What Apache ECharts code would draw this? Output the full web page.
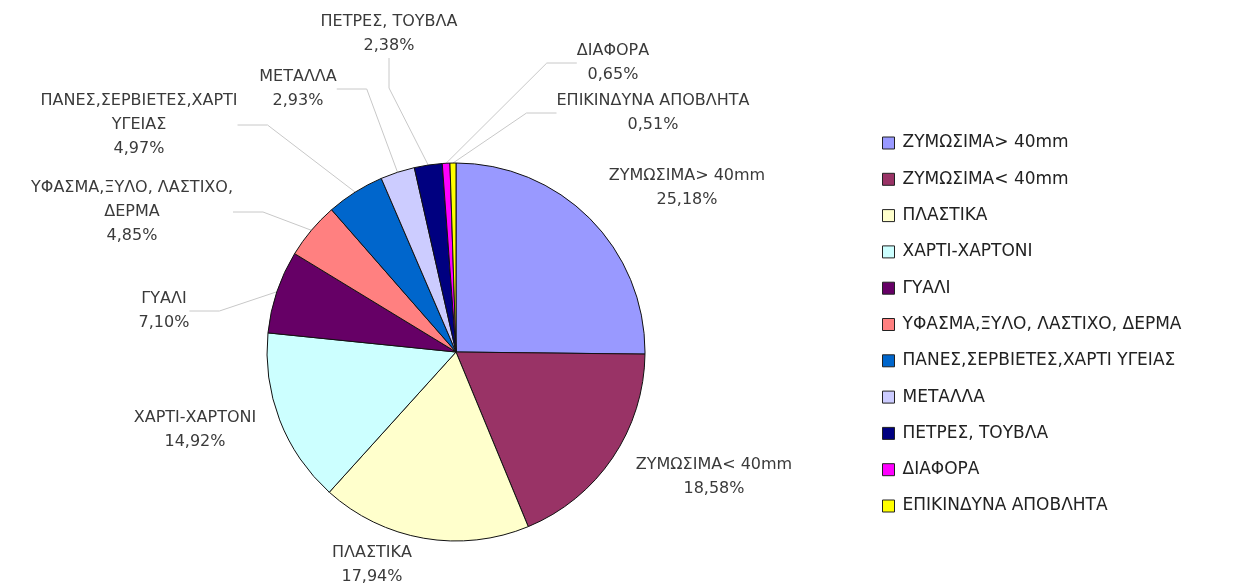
<!DOCTYPE html>
<html lang="el">
	<head>
		<meta charset="utf-8">
		<title>Σύσταση αποβλήτων</title>
		<script src="https://cdn.jsdelivr.net/npm/echarts@6/dist/echarts.min.js"></script>
		<style>
			html, body { margin: 0; padding: 0; background: #fff; }
			#container { width: 1255px; height: 585px; }
		</style>
	</head>
	<body>
		<div id="container"></div>
		<script type="text/javascript">
            // κατηγορίες (όπως στο υπόμνημα)
            var names = ['ΖΥΜΩΣΙΜΑ> 40mm', 'ΖΥΜΩΣΙΜΑ< 40mm', 'ΠΛΑΣΤΙΚΑ', 'ΧΑΡΤΙ-ΧΑΡΤΟΝΙ', 'ΓΥΑΛΙ',
                'ΥΦΑΣΜΑ,ΞΥΛΟ, ΛΑΣΤΙΧΟ, ΔΕΡΜΑ', 'ΠΑΝΕΣ,ΣΕΡΒΙΕΤΕΣ,ΧΑΡΤΙ ΥΓΕΙΑΣ', 'ΜΕΤΑΛΛΑ',
                'ΠΕΤΡΕΣ, ΤΟΥΒΛΑ', 'ΔΙΑΦΟΡΑ', 'ΕΠΙΚΙΝΔΥΝΑ ΑΠΟΒΛΗΤΑ'];
            // ποσοστά %
            var values = [25.18, 18.58, 17.94, 14.92, 7.10, 4.85, 4.97, 2.93, 2.38, 0.65, 0.51];
            // κείμενο ετικετών πάνω στο γράφημα
            var labelNames = ['ΖΥΜΩΣΙΜΑ> 40mm', 'ΖΥΜΩΣΙΜΑ< 40mm', 'ΠΛΑΣΤΙΚΑ', 'ΧΑΡΤΙ-ΧΑΡΤΟΝΙ', 'ΓΥΑΛΙ',
                'ΥΦΑΣΜΑ,ΞΥΛΟ, ΛΑΣΤΙΧΟ,\nΔΕΡΜΑ', 'ΠΑΝΕΣ,ΣΕΡΒΙΕΤΕΣ,ΧΑΡΤΙ\nΥΓΕΙΑΣ', 'ΜΕΤΑΛΛΑ',
                'ΠΕΤΡΕΣ, ΤΟΥΒΛΑ', 'ΔΙΑΦΟΡΑ', 'ΕΠΙΚΙΝΔΥΝΑ ΑΠΟΒΛΗΤΑ'];
            var colors = ['#9999ff', '#993366', '#ffffcc', '#ccffff', '#660066', '#ff8080',
                '#0066cc', '#ccccff', '#000080', '#ff00ff', '#ffff00'];

            // θέσεις ετικετών (κέντρο κειμένου)
            var labelPos = [[687, 188], [714, 477], [372, 565], [195, 430], [164, 311],
                [132, 212], [139, 125], [298, 89], [389, 34], [613, 63], [653, 113]];
            var showLine = [false, false, false, false, true, true, true, true, true, true, true];

            var data = [];
            for (var i = 0; i < names.length; i++) {
                data.push({
                    name: names[i],
                    value: values[i],
                    itemStyle: { color: colors[i] },
                    labelLine: { show: showLine[i] }
                });
            }

            var dom = document.getElementById("container");
            var myChart = echarts.init(dom, null, { renderer: 'canvas' });
            var option = {
                animation: false,
                legend: {
                    orient: 'vertical',
                    left: 877,
                    top: 129,
                    itemWidth: 12,
                    itemHeight: 12,
                    itemGap: 18.3,
                    icon: 'rect',
                    itemStyle: { borderColor: '#222', borderWidth: 1 },
                    textStyle: {
                        fontFamily: 'DejaVu Sans',
                        fontSize: 17,
                        lineHeight: 18,
                        color: '#222',
                        padding: [0, 0, 0, 3]
                    },
                    data: names
                },
                series: [
                    {
                        type: 'pie',
                        center: [456, 352],
                        radius: 189,
                        startAngle: 90,
                        clockwise: true,
                        avoidLabelOverlap: false,
                        emphasis: { disabled: true },
                        itemStyle: { borderColor: '#111', borderWidth: 1 },
                        label: {
                            show: true,
                            position: 'outside',
                            fontFamily: 'DejaVu Sans',
                            fontSize: 16,
                            lineHeight: 24,
                            color: '#3a3a3a',
                            align: 'center',
                            formatter: function (p) {
                                return labelNames[p.dataIndex] + '\n' + p.value.toFixed(2).replace('.', ',') + '%';
                            }
                        },
                        labelLine: {
                            lineStyle: { color: '#c8c8c8', width: 1 }
                        },
                        labelLayout: function (params) {
                            var pos = labelPos[params.dataIndex];
                            return {
                                x: pos[0],
                                y: pos[1],
                                align: 'center',
                                verticalAlign: 'middle'
                            };
                        },
                        data: data
                    }
                ]
            };
            myChart.setOption(option, true);
		</script>
	</body>
</html>
